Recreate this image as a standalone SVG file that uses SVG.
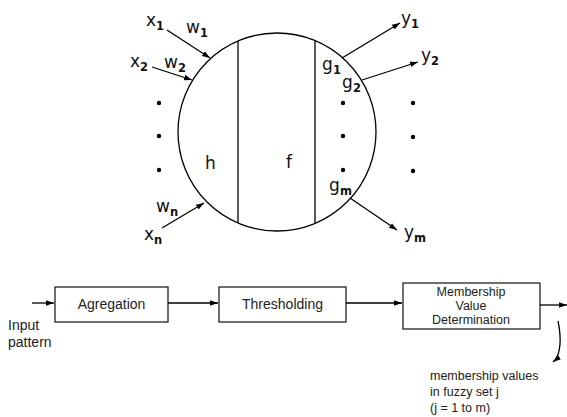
<svg xmlns="http://www.w3.org/2000/svg" width="567" height="417" viewBox="0 0 567 417">
<defs>
<marker id="ah" viewBox="0 0 10 10" refX="10" refY="5" markerWidth="8" markerHeight="8" markerUnits="userSpaceOnUse" orient="auto">
<path d="M0,1.5 L10,5 L0,8.5 z" fill="#000"/>
</marker>
</defs>
<style>
.ln{stroke:#000;stroke-width:1.3;fill:none}
.lbl{font-family:"DejaVu Sans",Verdana,sans-serif;font-size:17px;fill:#111}
.sub{font-family:"DejaVu Sans",Verdana,sans-serif;font-size:11.5px;font-weight:bold;fill:#111}
.txt{font-family:"Liberation Sans",Arial,sans-serif;font-size:14px;fill:#222}
.sm{font-family:"Liberation Sans",Arial,sans-serif;font-size:12.5px;fill:#222}
.box{fill:#fff;stroke:#222;stroke-width:1.3}
</style>
<rect width="567" height="417" fill="#fff"/>
<g id="neuron">
<circle cx="277" cy="132" r="99" class="ln"/>
<line x1="238" y1="41" x2="238" y2="223" class="ln"/>
<line x1="315" y1="41" x2="315" y2="223" class="ln"/>
<text x="205" y="169" class="lbl">h</text>
<text x="286" y="168" class="lbl">f</text>
</g>
<g id="inputs">
<text x="146" y="26" class="lbl">x</text><text x="156" y="30" class="sub">1</text>
<text x="186" y="33" class="lbl">w</text><text x="200" y="37" class="sub">1</text>
<text x="130" y="67" class="lbl">x</text><text x="140" y="71" class="sub">2</text>
<text x="164" y="68" class="lbl">w</text><text x="178" y="72" class="sub">2</text>
<text x="156" y="212" class="lbl">w</text><text x="170" y="216" class="sub">n</text>
<text x="144" y="240" class="lbl">x</text><text x="154" y="244" class="sub">n</text>
<circle cx="159" cy="103" r="2.2"/><circle cx="159" cy="136" r="2.2"/><circle cx="159" cy="170" r="2.2"/>
</g>
<g id="outputs">
<text x="322" y="70" class="lbl">g</text><text x="333" y="74" class="sub">1</text>
<text x="342" y="88" class="lbl">g</text><text x="353" y="92" class="sub">2</text>
<text x="329" y="191" class="lbl">g</text><text x="340" y="195" class="sub">m</text>
<text x="401" y="24" class="lbl">y</text><text x="411" y="28" class="sub">1</text>
<text x="421" y="61" class="lbl">y</text><text x="431" y="65" class="sub">2</text>
<text x="404" y="238" class="lbl">y</text><text x="414" y="242" class="sub">m</text>
<circle cx="343" cy="103" r="2.2"/><circle cx="343" cy="136" r="2.2"/><circle cx="343" cy="170" r="2.2"/>
<circle cx="413" cy="103" r="2.2"/><circle cx="413" cy="137" r="2.2"/><circle cx="413" cy="171" r="2.2"/>
</g>
<g id="agregation">
<rect x="55" y="287" width="113" height="35" class="box"/>
<text x="111.5" y="309" text-anchor="middle" class="txt">Agregation</text>
</g>
<g id="thresholding">
<rect x="219" y="287" width="127" height="35" class="box"/>
<text x="282.5" y="309" text-anchor="middle" class="txt">Thresholding</text>
</g>
<g id="membership">
<rect x="403" y="283" width="137" height="46" class="box"/>
<text x="471" y="296" text-anchor="middle" class="sm">Membership</text>
<text x="471" y="310" text-anchor="middle" class="sm">Value</text>
<text x="471" y="324" text-anchor="middle" class="sm">Determination</text>
</g>
<g id="labels">
<text x="8" y="330" class="txt">Input</text>
<text x="8" y="347" class="txt">pattern</text>
<text x="430" y="380" class="sm">membership values</text>
<text x="430" y="396" class="sm">in fuzzy set j</text>
<text x="430" y="412" class="sm">(j = 1 to m)</text>
</g>
<g id="connectors">
<line x1="167" y1="30" x2="210" y2="58" class="ln" marker-end="url(#ah)"/>
<line x1="152" y1="67" x2="192" y2="80" class="ln" marker-end="url(#ah)"/>
<line x1="162" y1="228" x2="204" y2="203" class="ln" marker-end="url(#ah)"/>
<line x1="342" y1="58" x2="400" y2="23" class="ln" marker-end="url(#ah)"/>
<line x1="362" y1="80" x2="418" y2="62" class="ln" marker-end="url(#ah)"/>
<line x1="350" y1="198" x2="397" y2="230" class="ln" marker-end="url(#ah)"/>
<line x1="32" y1="303" x2="54" y2="303" class="ln" marker-end="url(#ah)"/>
<line x1="168" y1="303" x2="218" y2="303" class="ln" marker-end="url(#ah)"/>
<line x1="346" y1="303" x2="402" y2="303" class="ln" marker-end="url(#ah)"/>
<line x1="540" y1="305" x2="567" y2="305" class="ln" marker-end="url(#ah)"/>
<path d="M558,321 C561,335 562,355 553,362" class="ln" marker-end="url(#ah)"/>
</g>
</svg>
